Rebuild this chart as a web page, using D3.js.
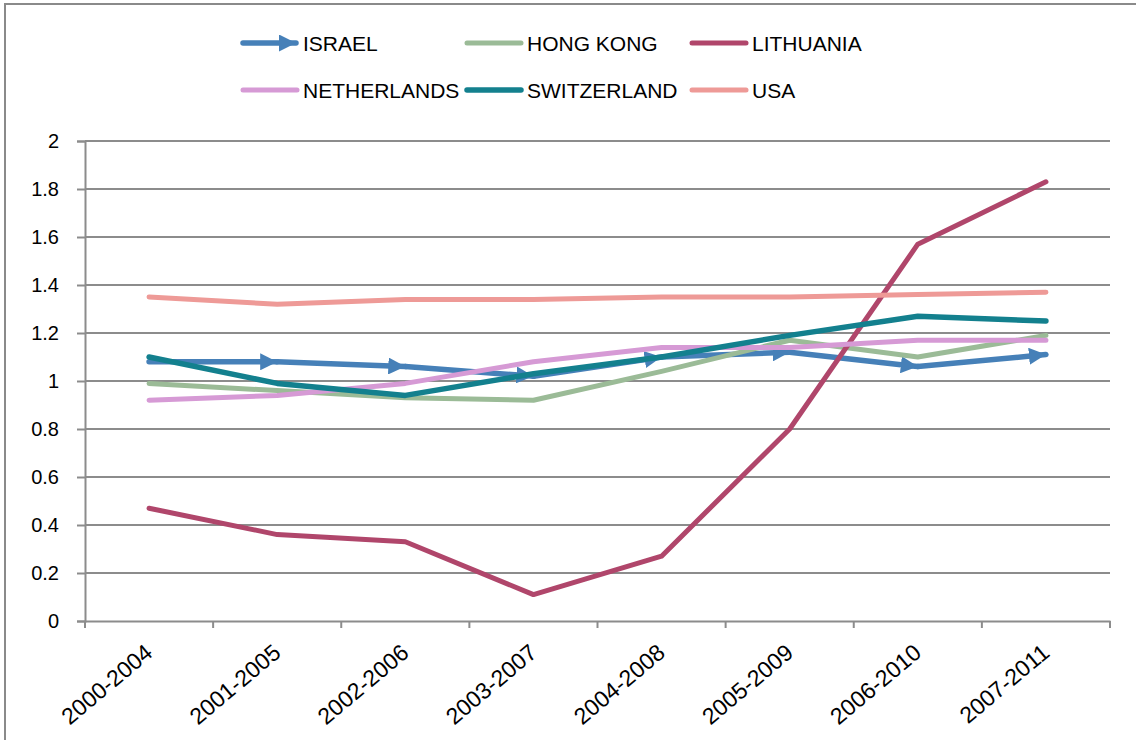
<!DOCTYPE html>
<html>
<head>
<meta charset="utf-8">
<script src="https://cdn.jsdelivr.net/npm/d3@7"></script>
<style>
  html, body { margin: 0; padding: 0; background: #fff; }
  svg { display: block; }
  text { font-family: "Liberation Sans", Arial, sans-serif; fill: #000; }
</style>
</head>
<body>
<svg id="chart" width="1136" height="740"></svg>
<script>
const categories = ["2000-2004","2001-2005","2002-2006","2003-2007","2004-2008","2005-2009","2006-2010","2007-2011"];
const seriesNames = ["ISRAEL","HONG KONG","LITHUANIA","NETHERLANDS","SWITZERLAND","USA"];
const israel      = [1.08, 1.08, 1.06, 1.02, 1.10, 1.12, 1.06, 1.11];
const hongKong    = [0.99, 0.96, 0.93, 0.92, 1.04, 1.17, 1.10, 1.19];
const lithuania   = [0.47, 0.36, 0.33, 0.11, 0.27, 0.80, 1.57, 1.83];
const netherlands = [0.92, 0.94, 0.99, 1.08, 1.14, 1.14, 1.17, 1.17];
const switzerland = [1.10, 0.99, 0.94, 1.03, 1.10, 1.19, 1.27, 1.25];
const usa         = [1.35, 1.32, 1.34, 1.34, 1.35, 1.35, 1.36, 1.37];
const yTicks = [0, 0.2, 0.4, 0.6, 0.8, 1, 1.2, 1.4, 1.6, 1.8, 2];

const colors = ["#4680b8", "#9bbb97", "#b0466b", "#d69ad5", "#13808e", "#ee9a97"];
const widths = [5.5, 5, 5, 5, 5.5, 5];
const seriesValues = [israel, hongKong, lithuania, netherlands, switzerland, usa];

const svg = d3.select("#chart");
const plotLeft = 85, plotRight = 1110, plotTop = 141, plotBottom = 621;

// outer border
svg.append("rect").attr("x", 5).attr("y", 4).attr("width", 1140).attr("height", 745)
  .attr("fill", "none").attr("stroke", "#8a8a8a").attr("stroke-width", 2);

const x = d3.scaleBand().domain(categories).range([plotLeft, plotRight]).padding(0);
const y = d3.scaleLinear().domain([0, 2]).range([plotBottom, plotTop]);

// gridlines
svg.append("g").selectAll("line").data(yTicks.filter(d => d > 0)).join("line")
  .attr("x1", plotLeft).attr("x2", plotRight)
  .attr("y1", d => y(d)).attr("y2", d => y(d))
  .attr("stroke", "#8c8c8c").attr("stroke-width", 2);

// y axis
const yAxis = svg.append("g").attr("transform", `translate(${plotLeft},0)`)
  .call(d3.axisLeft(y).tickValues(yTicks).tickSize(8).tickPadding(18).tickFormat(d3.format("~g")));
yAxis.select(".domain").attr("stroke", "#8c8c8c").attr("stroke-width", 2);
yAxis.selectAll(".tick line").attr("stroke", "#8c8c8c").attr("stroke-width", 2);
yAxis.selectAll(".tick text").style("font-size", "20px").style("font-family", "Liberation Sans, Arial, sans-serif").attr("fill", "#000");

// x axis
const xAxis = svg.append("g").attr("transform", `translate(0,${plotBottom})`)
  .call(d3.axisBottom(x).tickSize(0).tickFormat(""));
xAxis.select(".domain").attr("stroke", "#8c8c8c").attr("stroke-width", 2);
const boundaries = categories.map(c => x(c)).concat([x(categories[categories.length - 1]) + x.bandwidth()]);
xAxis.append("g").selectAll("line").data(boundaries).join("line")
  .attr("x1", d => d).attr("x2", d => d).attr("y1", 0).attr("y2", 7)
  .attr("stroke", "#8c8c8c").attr("stroke-width", 2);

svg.append("g").selectAll("text").data(categories).join("text")
  .attr("transform", d => `translate(${x(d) + x.bandwidth() / 2 + 5},${plotBottom + 34}) rotate(-40)`)
  .attr("text-anchor", "end")
  .style("font-size", "23px")
  .text(d => d);

// arrow marker for Israel
const defs = svg.append("defs");
defs.append("marker").attr("id", "arrow")
  .attr("markerUnits", "userSpaceOnUse")
  .attr("viewBox", "0 0 10 10").attr("refX", 10).attr("refY", 5)
  .attr("markerWidth", 17).attr("markerHeight", 17)
  .attr("orient", "auto")
  .append("path").attr("d", "M0,0 L10,5 L0,10 Z").attr("fill", colors[0]);

const cx = c => x(c) + x.bandwidth() / 2;
const line = d3.line().x((d, i) => cx(categories[i])).y(d => y(d));

seriesValues.forEach((vals, si) => {
  if (si === 0) {
    const g = svg.append("g");
    for (let i = 1; i < vals.length; i++) {
      const x1 = cx(categories[i - 1]), y1 = y(vals[i - 1]);
      const x2 = cx(categories[i]), y2 = y(vals[i]);
      const dx = x2 - x1, dy = y2 - y1, len = Math.hypot(dx, dy);
      const sx = x2 - dx / len * 8, sy = y2 - dy / len * 8;
      g.append("path")
        .attr("d", `M${x1},${y1} L${sx},${sy} L${x2},${y2}`)
        .attr("fill", "none").attr("stroke", colors[0])
        .attr("stroke-width", widths[0]).attr("stroke-linecap", "round")
        .attr("stroke-linejoin", "round")
        .attr("marker-end", "url(#arrow)");
    }
  } else {
    svg.append("path").datum(vals)
      .attr("d", line)
      .attr("fill", "none").attr("stroke", colors[si])
      .attr("stroke-width", widths[si]).attr("stroke-linecap", "round")
      .attr("stroke-linejoin", "round");
  }
});

// legend
const legendPos = [
  {lx: 243, ly: 43}, {lx: 467, ly: 43}, {lx: 692, ly: 43},
  {lx: 243, ly: 90}, {lx: 467, ly: 90}, {lx: 692, ly: 90}
];
const leg = svg.append("g");
seriesNames.forEach((name, i) => {
  const p = legendPos[i];
  const g = leg.append("g").attr("transform", `translate(${p.lx},${p.ly})`);
  g.append("line").attr("x1", 0).attr("x2", i === 0 ? 53 : 54).attr("y1", 0).attr("y2", 0)
    .attr("stroke", colors[i]).attr("stroke-width", widths[i]).attr("stroke-linecap", "round")
    .attr("marker-end", i === 0 ? "url(#arrow)" : null);
  g.append("text").attr("x", 60).attr("y", 7.5)
    .style("font-size", "21px").text(name);
});
</script>
</body>
</html>
